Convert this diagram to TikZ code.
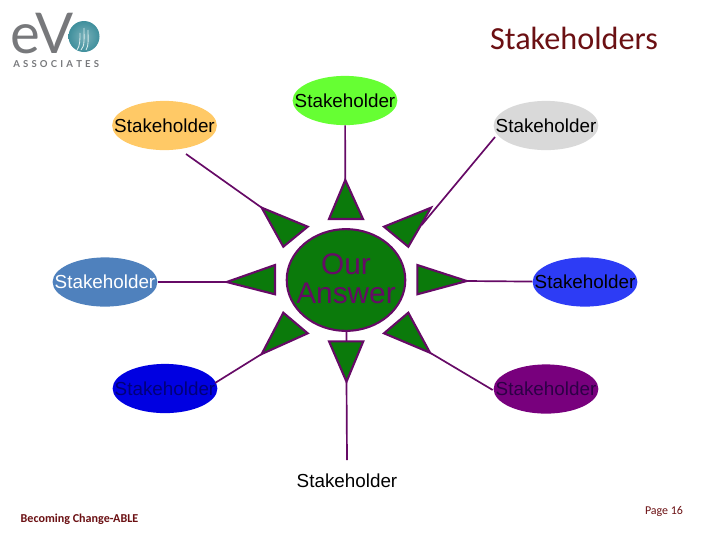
\documentclass[tikz,border=0pt]{standalone}
\usepackage{fontspec}
\setmainfont{Liberation Sans}
\newfontfamily\calibri{Carlito}
\newfontfamily\logofont{Lato}
\usepackage{tikz}
\usetikzlibrary{shapes.geometric}
\definecolor{rim}{HTML}{660A66}
\definecolor{sungreen}{HTML}{0B7A0B}
\definecolor{titlered}{HTML}{6B1013}
\definecolor{logogrey}{HTML}{77787B}
\definecolor{logoteal}{HTML}{3F8F9C}
\newcommand{\stk}{\makebox[0pt]{Stakeholder}}
\tikzset{
	x=0.025cm,
	y=-0.025cm,
	stakeholder/.style={ellipse, inner sep=0pt, minimum width=74.5pt, minimum height=35pt, font=\fontsize{13.4}{15}\selectfont},
	ray/.style={draw=rim, line width=1.5pt, fill=sungreen, line join=miter},
	spoke/.style={draw=rim, line width=1.2pt},
}

\begin{document}
\begin{tikzpicture}
			\useasboundingbox (0,0) rectangle (720,540);
			% logo
			\node[anchor=base west, inner sep=0pt, text height=27pt, text depth=0pt, text=logogrey, font=\logofont\fontsize{40}{40}\selectfont] (logoname) at (10,53) {eV};
			\shade[inner color=logoteal!70!white, outer color=logoteal] (84,36.5) circle (15.5);
			\draw[white!85!teal, line width=0.6pt] (81,50) .. controls (85,46) and (84,38) .. (84,28);
			\draw[white!85!teal, line width=0.6pt] (86,50) .. controls (89,46) and (88,38) .. (88,30);
			\draw[white!85!teal, line width=0.6pt] (77,50) .. controls (80,46) and (80,40) .. (80,33);
			\node[anchor=base west, inner sep=0pt, text=logogrey, font=\logofont\bfseries\fontsize{6.8}{8}\selectfont] (logotag) at (13,67) {A\,\,S\,\,S\,\,O\,\,C\,\,I\,\,A\,\,T\,\,E\,\,S};

			\node[text=titlered, font=\calibri\fontsize{22.9}{26}\selectfont, inner sep=0pt] (title) at (574,38) {Stakeholders};
			\node[text=titlered, font=\calibri\bfseries\fontsize{8.6}{10}\selectfont, inner sep=0pt] (motto) at (79.5,519) {Becoming Change-ABLE};
			\node[text=titlered, font=\calibri\fontsize{8.5}{10}\selectfont, inner sep=0pt] (page) at (664,511) {Page 16};

			\node[stakeholder, fill={rgb,255:red,255;green,201;blue,102}] (orange) at (164.5,125.5) {\stk};
			\node[stakeholder, fill={rgb,255:red,102;green,255;blue,51}] (lime) at (345,100.5) {\stk};
			\node[stakeholder, fill={rgb,255:red,217;green,217;blue,217}] (grey) at (546,125.5) {\stk};
			\node[stakeholder, fill={rgb,255:red,79;green,129;blue,189}, text=white] (steel) at (105,282) {\stk};
			\node[stakeholder, fill={rgb,255:red,45;green,60;blue,245}] (bright) at (585,282) {\stk};
			\node[stakeholder, fill={rgb,255:red,0;green,0;blue,225}, text={rgb,255:red,0;green,0;blue,120}] (navy) at (165,388.5) {\stk};
			\node[stakeholder, fill={rgb,255:red,120;green,0;blue,125}, text={rgb,255:red,45;green,0;blue,70}] (violet) at (546,389) {\stk};
			\node[stakeholder] (plain) at (347,481) {\stk};

			\node[ellipse, inner sep=0pt, minimum width=84.3pt, minimum height=72.3pt, draw=rim, line width=1.5pt, fill=sungreen] (answer) at (346,280) {};
			\node[align=center, inner sep=0pt, text=rim, font=\fontsize{21.2}{20.6}\selectfont] (answertext) at (346,279) {Our\\Answer};

			\coordinate (tip1) at (345.3,180);
			\coordinate (tip2) at (431,207.7);
			\coordinate (tip3) at (466.7,281);
			\coordinate (tip4) at (430,352.7);
			\coordinate (tip5) at (346.5,381.7);
			\coordinate (tip6) at (261.7,354);
			\coordinate (tip7) at (226.7,282);
			\coordinate (tip8) at (261.7,207.7);
			\coordinate (from1) at (186,154);
			\coordinate (from2) at (495,137);
			\coordinate (end2) at (421.7,225);
			\coordinate (base5) at (346.5,341.3);
			\coordinate (from4) at (492.7,390);
			\coordinate (from5) at (347,460);
			\coordinate (from6) at (215,383);

			\draw[ray] (tip1) -- (329,219) -- (363,219) -- cycle;
			\draw[ray] (tip2) -- (384,226.7) -- (408.3,246.7) -- cycle;
			\draw[ray] (tip3) -- (417.3,265) -- (417.3,294.3) -- cycle;
			\draw[ray] (tip4) -- (408.3,312.7) -- (384,333.3) -- cycle;
			\draw[ray] (tip5) -- (329,341.3) -- (363.3,341.3) -- cycle;
			\draw[ray] (tip6) -- (283.3,312.7) -- (307.7,333.3) -- cycle;
			\draw[ray] (tip7) -- (275,265) -- (275,294.3) -- cycle;
			\draw[ray] (tip8) -- (307.7,226.7) -- (283.3,246.7) -- cycle;

			\draw[spoke] (lime) -- (tip1);
			\draw[spoke] (from2) -- (end2);
			\draw[spoke] (bright) -- (tip3);
			\draw[spoke] (from4) -- (tip4);
			\draw[spoke] (from5) -- (tip5);
			\draw[spoke] (answer) -- (base5);
			\draw[spoke] (from6) -- (tip6);
			\draw[spoke] (steel) -- (tip7);
			\draw[spoke] (from1) -- (tip8);
		\end{tikzpicture}
\end{document}
